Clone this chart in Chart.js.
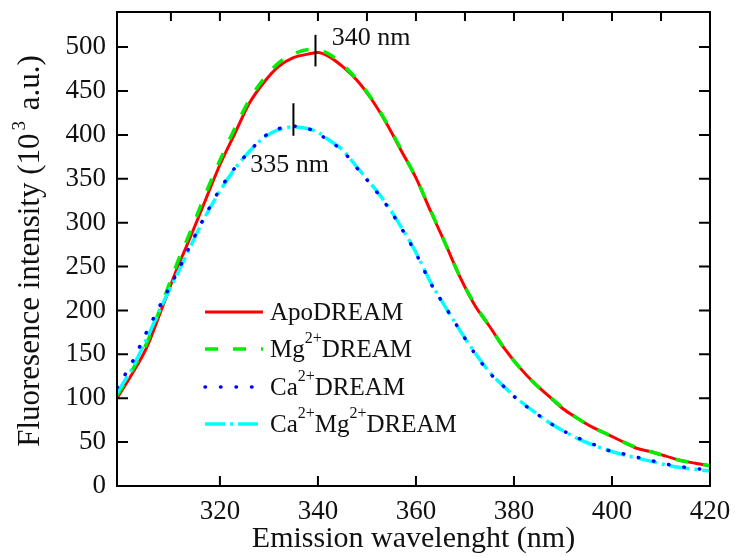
<!DOCTYPE html>
<html lang="en">
<head>
    <meta charset="UTF-8">
    <title>DREAM fluorescence</title>
    <script src="https://cdn.jsdelivr.net/npm/chart.js"></script>
    <style>
        body { margin: 0; background: #fff; }
    </style>
</head>
<body>

<canvas id="spectraChart" width="735" height="557"></canvas>

<script>
// data
const wavelengths = [299, 302, 305, 308, 311, 314, 317, 320, 323, 326, 329, 332, 335, 338, 340, 342, 345, 348, 351, 354, 357, 360, 363, 366, 369, 372, 375, 378, 381, 384, 387, 390, 393, 396, 399, 402, 405, 408, 411, 414, 417, 420];
const apoDream = [100, 127, 157, 200, 244, 284, 325, 366, 401, 436, 460, 478, 488, 492, 494, 490, 478, 462, 440, 413, 382, 351, 313, 276, 238, 206, 182, 157, 136, 118, 103, 88, 77, 67, 59, 51, 43, 39, 34, 29, 26, 23];
const mgDream = [103, 131, 162, 205, 250, 290, 332, 371, 407, 440, 464, 482, 492, 497, 496, 493, 480, 463, 441, 414, 383, 351, 314, 276, 238, 207, 182, 157, 136, 118, 103, 89, 77, 67, 59, 51, 44, 39, 34, 29, 26, 23];
const caDream = [112, 140, 175, 208, 240, 275, 308, 338, 362, 381, 398, 407, 410, 407, 402, 394, 382, 362, 342, 320, 294, 265, 231, 204, 177, 151, 129, 113, 97, 85, 73, 63, 55, 48, 41, 37, 33, 29, 25, 22, 20, 18];
const caMgDream = [106, 133, 167, 204, 238, 273, 307, 336, 361, 381, 397, 406, 409, 407, 403, 395, 383, 363, 343, 321, 295, 266, 232, 204, 177, 152, 130, 113, 98, 85, 73, 63, 54, 47, 41, 36, 32, 28, 24, 21, 19, 17];

const xTicks = [320, 340, 360, 380, 400, 420];
const xTopTicks = [310, 320, 330, 340, 350, 360, 370, 380, 390, 400, 410];
const yTicks = [0, 50, 100, 150, 200, 250, 300, 350, 400, 450, 500];

// peak markers: wavelength, from, to (intensity), label
const peakWavelengths = [339.5, 335];
const peakFrom = [478, 399];
const peakTo = [514, 436];
const peakLabels = ["340 nm", "335 nm"];

// legend entries as [text, superscript] pieces
const legendParts = [
    [["ApoDREAM", false]],
    [["Mg", false], ["2+", true], ["DREAM", false]],
    [["Ca", false], ["2+", true], ["DREAM", false]],
    [["Ca", false], ["2+", true], ["Mg", false], ["2+", true], ["DREAM", false]]
];

const FONT = "'Liberation Serif', 'Times New Roman', serif";

function points(values) {
    return wavelengths.map((w, i) => ({ x: w, y: values[i] }));
}

const seriesStyles = [
    { label: "ApoDREAM", data: apoDream, color: "#ff0000", dash: [], width: 3, cap: "butt", order: 3 },
    { label: "Mg²⁺DREAM", data: mgDream, color: "#00ee00", dash: [13, 15], width: 3.5, cap: "butt", order: 2 },
    { label: "Ca²⁺DREAM", data: caDream, color: "#0000ff", dash: [0.5, 15], width: 3.5, cap: "round", order: 0 },
    { label: "Ca²⁺Mg²⁺DREAM", data: caMgDream, color: "#00ffff", dash: [20, 5, 3, 5], width: 3.5, cap: "butt", order: 1 }
];

// frame, inward ticks, peak marks, y title and legend
const decorPlugin = {
    id: "decor",
    afterDraw(chart) {
        const { ctx, chartArea: a, scales: { x, y } } = chart;
        ctx.save();

        // frame
        ctx.strokeStyle = "#000";
        ctx.lineWidth = 2;
        ctx.strokeRect(a.left, a.top, a.right - a.left, a.bottom - a.top);

        // ticks pointing inwards
        ctx.beginPath();
        xTicks.forEach(v => {
            const px = x.getPixelForValue(v);
            ctx.moveTo(px, a.bottom);
            ctx.lineTo(px, a.bottom - 10);
        });
        xTopTicks.forEach(v => {
            const px = x.getPixelForValue(v);
            ctx.moveTo(px, a.top);
            ctx.lineTo(px, a.top + 9);
        });
        yTicks.forEach(v => {
            const py = y.getPixelForValue(v);
            ctx.moveTo(a.left, py);
            ctx.lineTo(a.left + 11, py);
            ctx.moveTo(a.right, py);
            ctx.lineTo(a.right - 11, py);
        });
        ctx.stroke();

        // peak markers
        ctx.fillStyle = "#111";
        ctx.font = "26px " + FONT;
        ctx.textBaseline = "middle";
        peakWavelengths.forEach((w, i) => {
            const px = x.getPixelForValue(w);
            ctx.beginPath();
            ctx.moveTo(px, y.getPixelForValue(peakFrom[i]));
            ctx.lineTo(px, y.getPixelForValue(peakTo[i]));
            ctx.stroke();
        });
        ctx.textAlign = "left";
        ctx.fillText(peakLabels[0], x.getPixelForValue(342.8), y.getPixelForValue(510));
        ctx.fillText(peakLabels[1], x.getPixelForValue(326.2), y.getPixelForValue(365));

        // y axis title with superscript
        ctx.save();
        ctx.translate(31, (a.top + a.bottom) / 2 + 2);
        ctx.rotate(-Math.PI / 2);
        const bigFont = "31px " + FONT;
        const supFont = "19px " + FONT;
        const partsY = [["Fluoresence intensity (10", false], ["3", true], [" a.u.)", false]];
        let total = 0;
        partsY.forEach(([t, sup]) => { ctx.font = sup ? supFont : bigFont; total += ctx.measureText(t).width + (sup ? 6 : 0); });
        let cx = -total / 2;
        partsY.forEach(([t, sup]) => {
            ctx.font = sup ? supFont : bigFont;
            ctx.fillText(t, cx + (sup ? 3 : 0), sup ? -11 : 0);
            cx += ctx.measureText(t).width + (sup ? 6 : 0);
        });
        ctx.restore();

        // legend
        const rowY = [312, 349, 387, 424];
        seriesStyles.forEach((s, i) => {
            ctx.strokeStyle = s.color;
            ctx.lineWidth = s.width;
            ctx.lineCap = s.cap;
            ctx.setLineDash(s.dash);
            ctx.beginPath();
            ctx.moveTo(205, rowY[i]);
            ctx.lineTo(263, rowY[i]);
            ctx.stroke();
            ctx.setLineDash([]);
            ctx.lineCap = "butt";

            let tx = 270;
            legendParts[i].forEach(([t, sup]) => {
                ctx.font = sup ? "16px " + FONT : "25px " + FONT;
                ctx.fillStyle = "#111";
                ctx.fillText(t, tx, sup ? rowY[i] - 10 : rowY[i] + 1);
                tx += ctx.measureText(t).width;
            });
        });

        ctx.restore();
    }
};

new Chart(document.getElementById("spectraChart"), {
    type: "line",
    data: {
        datasets: seriesStyles.map(s => ({
            label: s.label,
            data: points(s.data),
            borderColor: s.color,
            borderWidth: s.width,
            borderDash: s.dash,
            borderCapStyle: s.cap,
            pointRadius: 0,
            fill: false,
            tension: 0.4,
            cubicInterpolationMode: "monotone",
            order: s.order
        }))
    },
    options: {
        responsive: false,
        animation: false,
        events: [],
        layout: { padding: { top: 12, right: 25, left: 0, bottom: 0 } },
        plugins: {
            legend: { display: false },
            tooltip: { enabled: false }
        },
        scales: {
            x: {
                type: "linear",
                min: 299,
                max: 420,
                grid: { display: false, drawTicks: false },
                border: { display: false },
                afterBuildTicks: scale => { scale.ticks = xTicks.map(v => ({ value: v })); },
                afterFit: scale => {
                    scale.height = 71;
                    scale.paddingLeft = 0;
                    scale.paddingRight = 0;
                },
                ticks: {
                    padding: 10,
                    color: "#111",
                    font: { family: FONT, size: 27 },
                    maxRotation: 0
                },
                title: {
                    display: true,
                    text: "Emission wavelenght (nm)",
                    color: "#111",
                    font: { family: FONT, size: 30 },
                    padding: { top: 0, bottom: 0 }
                }
            },
            y: {
                min: 0,
                max: 540,
                grid: { display: false, drawTicks: false },
                border: { display: false },
                afterBuildTicks: scale => { scale.ticks = yTicks.map(v => ({ value: v })); },
                afterFit: scale => {
                    scale.width = 117;
                    scale.paddingTop = 0;
                    scale.paddingBottom = 0;
                },
                ticks: {
                    padding: 11,
                    color: "#111",
                    font: { family: FONT, size: 27 }
                }
            }
        }
    },
    plugins: [decorPlugin]
});
</script>
</body>
</html>
